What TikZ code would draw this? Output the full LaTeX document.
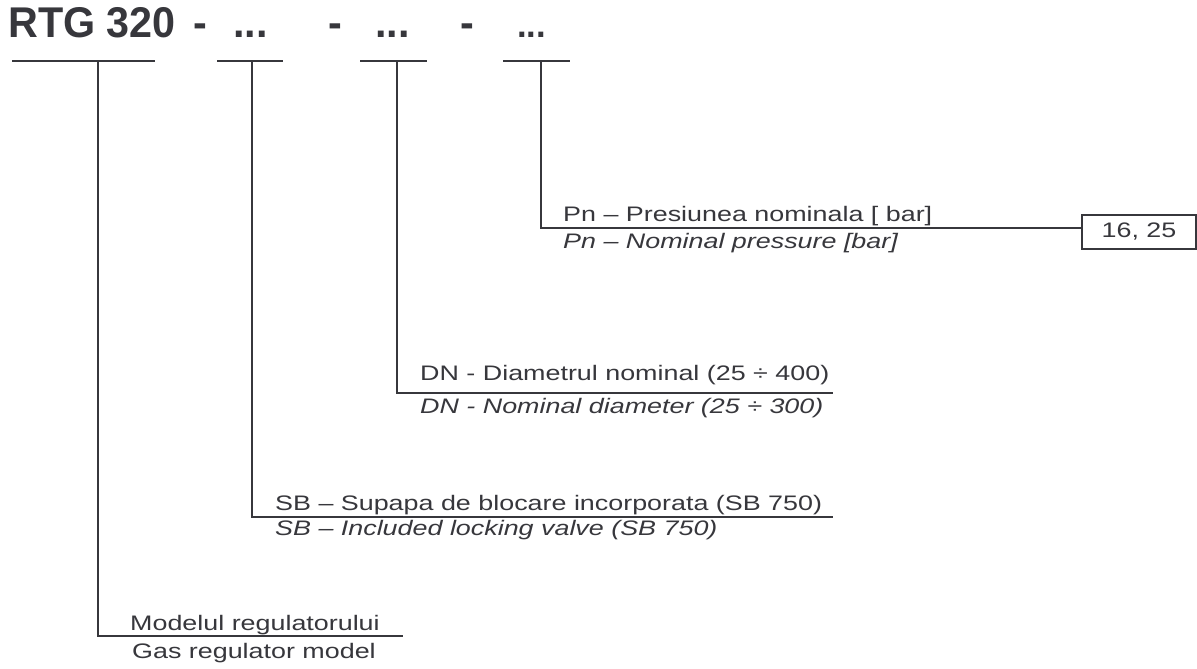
\documentclass[tikz,border=0pt]{standalone}
\usepackage{fontspec}
\setmainfont{Liberation Sans}[FakeStretch=1.28]
\newfontfamily\titlefont{Liberation Sans}[FakeStretch=0.96]
\definecolor{ink}{RGB}{55,55,60}
\begin{document}
\begin{tikzpicture}[x=1pt,y=-1pt,
  lbl/.style={anchor=base west,inner sep=0pt,text=ink,font=\fontsize{21}{21}\selectfont},
  ilbl/.style={lbl,font=\fontsize{21}{21}\selectfont\itshape},
  ttl/.style={anchor=base west,inner sep=0pt,text=ink,font=\titlefont\bfseries\fontsize{43}{43}\selectfont},
  bar/.style={draw=ink,line width=1.6pt},
  valbox/.style={draw=ink,line width=1.6pt,minimum width=114pt,minimum height=34pt,inner sep=0pt,text=ink,font=\fontsize{21}{21}\selectfont}]
\fill[white] (0,0) rectangle (1197,669);
\useasboundingbox (0,0) rectangle (1197,669);
% title
\node[ttl] (title) at (8,38) {RTG 320};
\node[ttl] (d1) at (193,38) {-};
\node[ttl] (p1) at (233,38) {...};
\node[ttl] (d2) at (328,38) {-};
\node[ttl] (p2) at (375,38) {...};
\node[ttl] (d3) at (460,38) {-};
\node[ttl,font=\titlefont\bfseries\fontsize{36}{36}\selectfont] (p3) at (517,38) {...};
% T bars
\coordinate (t1l) at (12,61); \coordinate (t1r) at (155,61); \coordinate (t1) at (98,61);
\coordinate (t2l) at (217,61); \coordinate (t2r) at (283,61); \coordinate (t2) at (252,61);
\coordinate (t3l) at (360,61); \coordinate (t3r) at (427,61); \coordinate (t3) at (397,61);
\coordinate (t4l) at (503,61); \coordinate (t4r) at (570,61); \coordinate (t4) at (541,61);
\draw[bar] (t1l) -- (t1r);
\draw[bar] (t2l) -- (t2r);
\draw[bar] (t3l) -- (t3r);
\draw[bar] (t4l) -- (t4r);
% Pn
\node[valbox] (box) at (1139,232) {16, 25};
\coordinate (c4) at (541,228);
\draw[bar] (t4) -- (c4) -- (box.west |- c4);
\node[lbl] (pnro) at (563,221) {Pn – Presiunea nominala [ bar]};
\node[ilbl] (pnen) at (563,248) {Pn – Nominal pressure [bar]};
% DN
\coordinate (c3) at (397,393); \coordinate (e3) at (833,393);
\draw[bar] (t3) -- (c3) -- (e3);
\node[lbl] (dnro) at (420,380) {DN - Diametrul nominal (25 ÷ 400)};
\node[ilbl] (dnen) at (420,413) {DN - Nominal diameter (25 ÷ 300)};
% SB
\coordinate (c2) at (252,517); \coordinate (e2) at (833,517);
\draw[bar] (t2) -- (c2) -- (e2);
\node[lbl] (sbro) at (275,510) {SB – Supapa de blocare incorporata (SB 750)};
\node[ilbl] (sben) at (275,535) {SB – Included locking valve (SB 750)};
% Model
\coordinate (c1) at (98,636); \coordinate (e1) at (403,636);
\draw[bar] (t1) -- (c1) -- (e1);
\node[lbl] (mro) at (130,630) {Modelul regulatorului};
\node[lbl] (men) at (132,658) {Gas regulator model};
\end{tikzpicture}
\end{document}
